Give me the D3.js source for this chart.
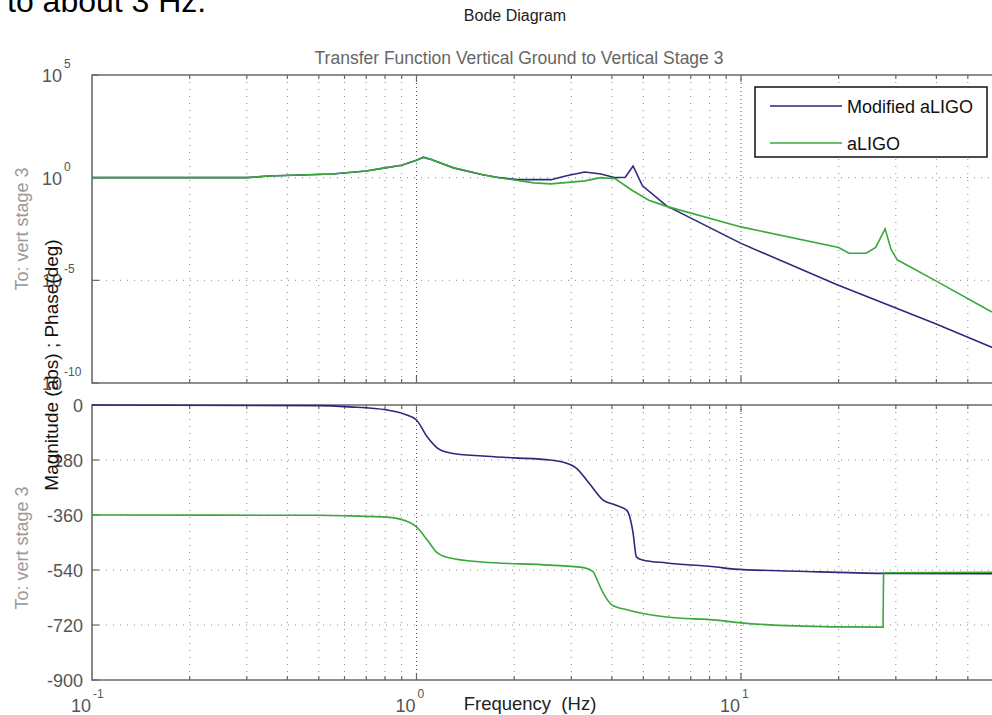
<!DOCTYPE html>
<html>
<head>
<meta charset="utf-8">
<script src="https://cdn.jsdelivr.net/npm/d3@7"></script>
<style>
  body { margin: 0; background: #fff; overflow: hidden; }
  svg { display: block; font-family: "Liberation Sans", Arial, sans-serif; }
</style>
</head>
<body>
<div id="grafico"></div>
<script>
// frequencias (Hz) e magnitudes (abs)
const freqMagMod = [0.1, 0.3, 0.35, 0.55, 0.7, 0.8, 0.9, 1.0, 1.05, 1.1, 1.3, 1.6, 1.8, 2.05, 2.6, 2.9, 3.3, 3.7, 4.1, 4.4, 4.65, 4.97, 5.9, 10, 19.7, 39.6, 58, 100];
const magMod = [1, 1, 1.2, 1.5, 2.1, 3, 4, 7, 10, 8, 3, 1.4, 1, 0.8, 0.8, 1.25, 1.9, 1.5, 1, 1.05, 3.7, 0.4, 0.042, 6.3e-4, 6.3e-6, 8e-8, 6.3e-9, 2e-10];

const freqMagAligo = [0.1, 0.3, 0.35, 0.55, 0.7, 0.8, 0.9, 1.0, 1.05, 1.1, 1.3, 1.6, 1.8, 2.3, 2.6, 3.3, 3.7, 4.1, 4.6, 5.2, 5.9, 10, 20, 21.5, 24.3, 26, 27.8, 29, 30.3, 39.6, 58, 100];
const magAligo = [1, 1, 1.2, 1.5, 2.1, 3, 4, 7, 9.5, 8, 3, 1.4, 1, 0.56, 0.5, 0.7, 1, 0.88, 0.25, 0.08, 0.04, 4e-3, 4e-4, 2.1e-4, 2.1e-4, 4e-4, 3.2e-3, 3.2e-4, 1e-4, 1e-5, 3.5e-7, 6e-9];

// fase (graus)
const freqFaseMod = [0.1, 0.5, 0.62, 0.81, 0.92, 1.0, 1.08, 1.16, 1.27, 1.6, 2.0, 2.58, 2.8, 3.1, 3.4, 3.76, 4.1, 4.45, 4.55, 4.65, 4.76, 4.97, 5.9, 8.4, 9.5, 15, 27.5, 100];
const faseMod = [0, -2, -6, -16, -30, -49, -105, -141, -157, -167, -173, -180, -186, -206, -255, -311, -327, -345, -370, -419, -497, -507, -517, -530, -537, -544, -551, -552];

const freqFaseAligo = [0.1, 0.5, 0.62, 0.81, 0.92, 1.0, 1.08, 1.16, 1.27, 1.6, 2.58, 3.3, 3.5, 3.6, 3.76, 4.0, 4.45, 5.9, 8.4, 10, 19.2, 27.4, 27.5, 40, 100];
const faseAligo = [-360, -361, -363, -367, -378, -399, -442, -484, -501, -514, -524, -533, -545, -572, -615, -654, -670, -694, -704, -713, -726, -727, -549, -548, -547];

const series = ["Modified aLIGO", "aLIGO"];
const cores = ["#2a2a7c", "#3aa83a"];

const ticksMag = [1e5, 1, 1e-5, 1e-10];
const ticksMagLabel = ["5", "0", "-5", "-10"];
const ticksFase = [0, -180, -360, -540, -720, -900];
const ticksX = [0.1, 1, 10];
const ticksXLabel = ["-1", "0", "1"];

function criarBode(target) {
    const largura = 992, altura = 715;
    const svg = d3.select(target).append("svg")
        .attr("width", largura)
        .attr("height", altura);

    const x = d3.scaleLog().domain([0.1, 100]).range([92, 1065.5]);
    const yMag = d3.scaleLog().domain([1e-10, 1e5]).range([383, 75]);
    const yFase = d3.scaleLinear().domain([-900, 0]).range([680, 405]);

    const paineis = [
        { y: yMag, topo: 75, base: 383, grid: [1, 1e-5] },
        { y: yFase, topo: 405, base: 680, grid: [-180, -360, -540, -720] }
    ];

    const todosTicks = x.ticks().filter(f => f > 0.1 && f < 100);
    const maiores = [1, 10];

    paineis.forEach(p => {
        // grade vertical
        svg.append("g").selectAll("line")
            .data(todosTicks)
            .enter().append("line")
            .attr("x1", d => x(d)).attr("x2", d => x(d))
            .attr("y1", p.topo).attr("y2", p.base)
            .attr("stroke", d => maiores.includes(d) ? "#555" : "#888")
            .attr("stroke-width", 1)
            .attr("stroke-dasharray", d => maiores.includes(d) ? "1,3" : "1,6");
        // grade horizontal
        svg.append("g").selectAll("line")
            .data(p.grid)
            .enter().append("line")
            .attr("x1", 92).attr("x2", largura)
            .attr("y1", d => p.y(d)).attr("y2", d => p.y(d))
            .attr("stroke", "#888")
            .attr("stroke-dasharray", "1,6");
        // marcas no eixo x (em cima e em baixo)
        [p.topo, p.base].forEach((yy, k) => {
            const dir = k === 0 ? 1 : -1;
            svg.append("g").selectAll("line")
                .data(todosTicks)
                .enter().append("line")
                .attr("x1", d => x(d)).attr("x2", d => x(d))
                .attr("y1", yy)
                .attr("y2", d => yy + dir * (maiores.includes(d) ? 7 : 4))
                .attr("stroke", "#666")
                .attr("stroke-width", 1.2);
        });
        // moldura
        svg.append("path")
            .attr("d", `M${largura + 5},${p.topo}H92V${p.base}H${largura + 5}`)
            .attr("fill", "none")
            .attr("stroke", "#6a6a6a")
            .attr("stroke-width", 1.6);
    });

    // marcas no eixo y
    svg.append("g").selectAll("line")
        .data(ticksMag)
        .enter().append("line")
        .attr("x1", 92).attr("x2", 99)
        .attr("y1", d => yMag(d)).attr("y2", d => yMag(d))
        .attr("stroke", "#666").attr("stroke-width", 1.2);
    svg.append("g").selectAll("line")
        .data(ticksFase)
        .enter().append("line")
        .attr("x1", 92).attr("x2", 99)
        .attr("y1", d => yFase(d)).attr("y2", d => yFase(d))
        .attr("stroke", "#666").attr("stroke-width", 1.2);

    // curvas
    const linhaMag = d3.line().x(d => x(d[0])).y(d => yMag(d[1]));
    const linhaFase = d3.line().x(d => x(d[0])).y(d => yFase(d[1])).curve(d3.curveMonotoneX);
    svg.append("clipPath").attr("id", "clipMag")
        .append("rect").attr("x", 92).attr("y", 75).attr("width", 1000).attr("height", 308);

    const magDados = [d3.zip(freqMagMod, magMod), d3.zip(freqMagAligo, magAligo)];
    const faseDados = [d3.zip(freqFaseMod, faseMod), d3.zip(freqFaseAligo, faseAligo)];

    svg.append("g").attr("clip-path", "url(#clipMag)")
        .selectAll("path")
        .data(magDados)
        .enter().append("path")
        .attr("d", linhaMag)
        .attr("fill", "none")
        .attr("stroke", (d, i) => cores[i])
        .attr("stroke-width", 1.6);

    svg.append("g")
        .selectAll("path")
        .data(faseDados)
        .enter().append("path")
        .attr("d", linhaFase)
        .attr("fill", "none")
        .attr("stroke", (d, i) => cores[i])
        .attr("stroke-width", 1.6);

    // rotulos do eixo y (magnitude)
    ticksMag.forEach((t, i) => {
        const yy = yMag(t);
        svg.append("text")
            .attr("x", 62).attr("y", yy + 7)
            .attr("text-anchor", "end")
            .attr("fill", "#555")
            .style("font-size", "18px")
            .text("10");
        svg.append("text")
            .attr("x", 64).attr("y", yy - 7)
            .attr("fill", "#555")
            .style("font-size", "12px")
            .text(ticksMagLabel[i]);
    });
    // rotulos da fase
    svg.append("g").selectAll("text")
        .data(ticksFase)
        .enter().append("text")
        .attr("x", 83)
        .attr("y", d => yFase(d) + 6.5)
        .attr("text-anchor", "end")
        .attr("fill", "#555")
        .style("font-size", "18px")
        .text(d => d);
    // rotulos do eixo x
    ticksX.forEach((t, i) => {
        svg.append("text")
            .attr("x", x(t) - 1).attr("y", 712)
            .attr("text-anchor", "end")
            .attr("fill", "#555")
            .style("font-size", "18px")
            .text("10");
        svg.append("text")
            .attr("x", x(t) + 1).attr("y", 698)
            .attr("fill", "#555")
            .style("font-size", "12px")
            .text(ticksXLabel[i]);
    });

    // "To:" labels
    [[22, 229], [22, 548]].forEach(([xx, yy]) => {
        svg.append("text")
            .attr("transform", `translate(${xx + 6},${yy}) rotate(-90)`)
            .attr("text-anchor", "middle")
            .attr("fill", "#999")
            .style("font-size", "18px")
            .text("To: vert stage 3");
    });

    svg.append("text")
        .attr("transform", "translate(58,365) rotate(-90)")
        .attr("text-anchor", "middle")
        .attr("fill", "#111")
        .style("font-size", "19px")
        .text("Magnitude (abs) ; Phase(deg)");

    // titulos
    svg.append("text")
        .attr("x", 515).attr("y", 21)
        .attr("text-anchor", "middle")
        .attr("fill", "#222")
        .style("font-size", "16px")
        .text("Bode Diagram");
    svg.append("text")
        .attr("x", 519).attr("y", 64)
        .attr("text-anchor", "middle")
        .attr("fill", "#666")
        .style("font-size", "17.5px")
        .text("Transfer Function Vertical Ground to Vertical Stage 3");
    svg.append("text")
        .attr("x", 530).attr("y", 710)
        .attr("text-anchor", "middle")
        .attr("fill", "#222")
        .style("font-size", "18.5px")
        .style("white-space", "pre")
        .text("Frequency  (Hz)");

    // texto do documento cortado em cima
    svg.append("text")
        .attr("x", 7).attr("y", 12)
        .attr("fill", "#000")
        .style("font-size", "32px")
        .text("to about 3 Hz.");

    // legenda
    const leg = svg.append("g");
    leg.append("rect")
        .attr("x", 755).attr("y", 87)
        .attr("width", 232).attr("height", 70)
        .attr("fill", "#fff")
        .attr("stroke", "#111")
        .attr("stroke-width", 1.5);
    series.forEach((s, i) => {
        const yy = 106 + i * 37;
        leg.append("line")
            .attr("x1", 770).attr("x2", 842)
            .attr("y1", yy).attr("y2", yy)
            .attr("stroke", cores[i])
            .attr("stroke-width", 1.6);
        leg.append("text")
            .attr("x", 847).attr("y", yy + 6.5)
            .attr("fill", "#111")
            .style("font-size", "18px")
            .text(s);
    });
}

criarBode("#grafico");
</script>
</body>
</html>
